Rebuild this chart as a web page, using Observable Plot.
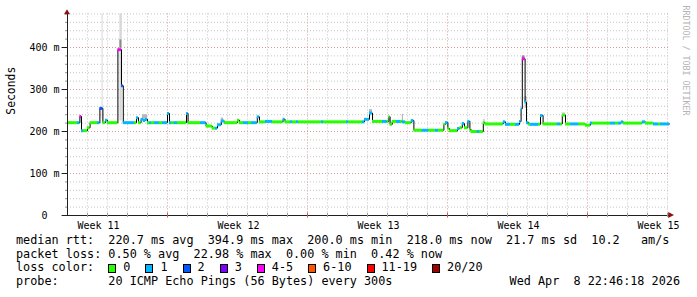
<!DOCTYPE html>
<html>
<head>
<meta charset="utf-8">
<script src="https://cdn.jsdelivr.net/npm/d3@7"></script>
<script src="https://cdn.jsdelivr.net/npm/@observablehq/plot@0.6"></script>
<style>
  html, body { margin: 0; padding: 0; background: #fff; }
  #wrap { position: relative; width: 697px; height: 297px; background: #fff; overflow: hidden; }
  #wrap svg text { white-space: pre; }
  .mono { font-family: "DejaVu Sans Mono", monospace; font-size: 11.8px; line-height: 13.7px; white-space: pre; color: #000; position: absolute; }
  .box { position: absolute; width: 6px; height: 7px; border: 1px solid #000; }
</style>
</head>
<body>
<div id="wrap"></div>
<script>
// ---------- data ----------
const xEnd = 30.1; // days shown
const segStart = [0,0.50,0.62,0.70,0.80,1.00,1.13,1.50,1.62,1.77,1.90,2.00,2.52,2.70,2.79,3.34,3.45,3.55,3.68,3.80,3.90,4.00,4.10,4.20,4.35,4.59,4.75,5.00,5.10,5.20,5.34,5.50,5.95,6.03,6.65,6.93,7.24,7.40,7.50,7.69,7.85,8.50,8.60,8.80,9.05,9.20,9.49,9.60,9.90,10.25,10.78,10.88,11.15,11.25,11.45,11.55,12.70,12.80,13.95,14.05,14.74,14.85,15.10,15.25,15.75,15.99,16.07,16.13,16.24,16.45,16.65,16.74,16.90,17.19,17.32,17.74,18.07,18.40,18.55,18.82,18.90,19.02,19.10,19.50,19.62,19.74,19.85,20.02,20.12,20.18,20.49,20.60,20.79,20.88,21.79,21.90,22.15,22.40,22.60,22.68,22.74,22.88,22.95,23.07,23.15,23.55,23.65,23.78,24.49,24.65,24.74,24.90,25.15,25.57,25.90,26.15,26.25,27.15,27.40,27.55,27.69,27.79,28.74,28.90,29.30,29.55,29.65];
const segValue = [221,221,236,202,202,209,221,221,255,221,227,221,394.9,309,221,221,233,221,229,226,229,221,221,221,221,221,221,243,221,221,221,221,243,221,221,213,208,208,216,225,221,227,221,221,221,221,235,223,224,223,229,223,223,223,223,223,223,223,223,223,223,229,244,224,224,224,235,217,224,224,224,223,221,226,203,203,203,203,203,217,221,207,202,207,209,219,209,224,205,200,200,200,221,218,223,217,217,217,224,254,373,270,221,217,217,217,238,218,218,218,239,218,218,218,215,220,220,220,220,220,223,220,223,220,218,218,218];
const segLoss = [0,1,4,1,0,0,0,1,2,0,1,0,4,2,1,0,1,0,1,1,1,0,1,0,1,0,1,1,1,0,1,0,1,0,1,0,0,1,1,1,0,0,0,1,0,1,1,0,1,0,1,0,1,0,1,0,1,0,1,0,1,1,1,0,1,0,0,0,0,1,0,1,0,1,0,1,0,1,0,0,1,0,0,1,0,1,0,1,0,0,1,0,0,0,1,1,0,1,1,1,4,1,1,0,1,0,1,0,1,0,0,0,1,0,0,1,0,1,0,1,1,0,1,0,1,0,1];

// smoke (ping spread) patches: time span, low/high rtt, density level
const smokeX1 = [1.73,2.62,2.62,3.75,7.69,15.10,16.74,20.79,22.74,22.88,24.74];
const smokeX2 = [1.78,2.74,2.72,4.00,7.80,15.25,16.80,20.90,22.88,22.98,24.90];
const smokeLo = [230,225,398,229,224,244,224,221,373,255,239];
const smokeHi = [480,480,418,240,232,252,241,229,380,283,245];
const smokeLevel = [1,1,3,2,2,2,2,1,3,2,1];

const lossLabels = ["0","1","2","3","4-5","6-10","11-19","20/20"];
const lossColors = ["#26ff00","#00b8ff","#0059ff","#7e00ff","#ff00ff","#ff5500","#ff0000","#a10000"];

const yMajor = [0,100,200,300,400];
const yTickLabels = ["0  ","100 m","200 m","300 m","400 m"];
const weekLabels = ["Week 11","Week 12","Week 13","Week 14","Week 15"];
const weekLabelDays = [1.55, 8.55, 15.55, 22.55, 29.55];
const weekBoundaryDays = [5, 12, 19, 26];

const rttNames = ["avg","max","min","now","sd"];
const rttValues = [220.7, 394.9, 200.0, 218.0, 21.7];
const ampsValue = 10.2;
const lossPctNames = ["avg","max","min","now"];
const lossPctValues = [0.50, 22.98, 0.00, 0.42];
const probeText = "20 ICMP Echo Pings (56 Bytes) every 300s";
const dateText = "Wed Apr  8 22:46:18 2026";

// ---------- derived ----------
const segs = segStart.map((s, i) => ({x1: s, x2: i + 1 < segStart.length ? segStart[i + 1] : xEnd, v: segValue[i], loss: segLoss[i]}));
const linePts = segStart.map((s, i) => ({x: s, v: segValue[i]})).concat([{x: xEnd, v: segValue[segValue.length - 1]}]);
const smoke = smokeX1.map((x, i) => ({x1: x, x2: smokeX2[i], lo: smokeLo[i], hi: smokeHi[i], level: smokeLevel[i]}));
const smokeGray = {1: "#d8d8d8", 2: "#b8b8b8", 3: "#8a8a8a"};

const yMinor = d3.range(20, 481, 20).filter(v => v % 100 !== 0);
const xMinor = d3.range(1, 31).filter(d => !weekBoundaryDays.includes(d));

const minorGrid = "#c4c4c4", majorGrid = "#dc9a9a", axisColor = "#202020", arrowColor = "#8b1010";

function arrows(index, scales, values, dimensions) {
  const sx = scales && scales.x ? scales.x : v => 67 + v * 20;
  const sy = scales && scales.y ? scales.y : v => 215 - v * 0.42;
  const g = d3.create("svg:g");
  const x0 = sx(0), y0 = sy(0), xr = sx(xEnd), yt = sy(480);
  g.append("path").attr("d", `M${x0 - 3},${yt + 0.8}L${x0},${yt - 4.2}L${x0 + 3},${yt + 0.8}Z`).attr("fill", arrowColor);
  g.append("path").attr("d", `M${xr - 0.8},${y0 - 3}L${xr + 5},${y0}L${xr - 0.8},${y0 + 3}Z`).attr("fill", arrowColor);
  return g.node();
}

const chart = Plot.plot({
  width: 697,
  height: 297,
  marginLeft: 67,
  marginRight: 28,
  marginTop: 13.4,
  marginBottom: 82,
  style: {fontFamily: "DejaVu Sans Mono", fontSize: "10px", background: "#fff", color: "#000"},
  x: {domain: [0, xEnd], axis: null},
  y: {domain: [0, 480], axis: null},
  color: {type: "identity"},
  marks: [
    Plot.ruleY(yMinor, {stroke: minorGrid, strokeDasharray: "1,2"}),
    Plot.ruleX(xMinor, {stroke: minorGrid, strokeDasharray: "1,2"}),
    Plot.ruleY([100, 200, 300, 400], {stroke: majorGrid, strokeDasharray: "1,2"}),
    Plot.ruleX(weekBoundaryDays, {stroke: majorGrid, strokeDasharray: "1,2"}),
    Plot.rect(smoke, {x1: "x1", x2: "x2", y1: "lo", y2: "hi", fill: d => smokeGray[d.level]}),
    Plot.line(linePts, {x: "x", y: "v", curve: "step-after", stroke: "#000", strokeWidth: 1}),
    Plot.ruleY(segs, {y: "v", x1: "x1", x2: "x2", stroke: d => lossColors[d.loss], strokeWidth: 3}),
    // axes
    Plot.ruleY([0], {x1: 0, x2: xEnd, stroke: axisColor}),
    Plot.ruleX([0], {y1: 0, y2: 480, stroke: axisColor}),
    Plot.ruleY(yMajor, {x1: -0.27, x2: 0, stroke: axisColor}),
    Plot.ruleY(yMinor, {x1: -0.1, x2: 0, stroke: "#909090"}),
    Plot.ruleX(xMinor, {y1: -4.8, y2: 4.8, stroke: "#a0a0a0"}),
    Plot.ruleX(weekBoundaryDays, {y1: -6, y2: 6, stroke: "#c06060"}),
    arrows,
    Plot.text(yMajor, {x: 0, y: d => d, text: (d, i) => yTickLabels[i], textAnchor: "end", dx: -8, fontSize: 10}),
    Plot.text(weekLabels, {x: (d, i) => weekLabelDays[i], y: 0, dy: 10, fontSize: 10}),
    Plot.text(["Seconds"], {frameAnchor: "left", dx: -56, rotate: -90, fontSize: 11.4}),
    Plot.text(["RRDTOOL / TOBI OETIKER"], {frameAnchor: "top-right", dx: 19.5, dy: -8.4, rotate: 90, textAnchor: "start", fontSize: 8.3, fill: "#b4b4b4"})
  ]
});

const wrap = document.getElementById("wrap");
wrap.appendChild(chart);

// ---------- legend text ----------
const charW = 7.105, lineH = 13.7, top0 = 234, left0 = 16;
function addText(str, left, top, right) {
  const el = document.createElement("div");
  el.className = "mono";
  if (right != null) el.style.right = right + "px"; else el.style.left = left + "px";
  el.style.top = top + "px";
  el.textContent = str;
  wrap.appendChild(el);
  return el;
}
const line1 = "median rtt:  " + rttValues.map((v, i) => `${v.toFixed(1)} ms ${rttNames[i]}`).join("  ") + "  " + ampsValue.toFixed(1) + "   am/s";
const line2 = "packet loss: " + lossPctValues.map((v, i) => `${v.toFixed(2)} % ${lossPctNames[i]}`).join("  ");
const line4 = "probe:       " + probeText;
addText(line1, left0, top0);
addText(line2, left0, top0 + lineH);
addText("loss color:", left0, top0 + 2 * lineH);
addText(line4, left0, top0 + 3 * lineH);
addText(dateText, null, top0 + 3 * lineH, 17);

// loss colour boxes, laid out one after another
let cx = left0 + 13 * charW;
const boxTop = top0 + 2 * lineH + 2.6;
lossLabels.forEach((l, i) => {
  const b = document.createElement("div");
  b.className = "box";
  b.style.left = cx + "px";
  b.style.top = boxTop + "px";
  b.style.background = lossColors[i];
  wrap.appendChild(b);
  addText(l, cx + 15, top0 + 2 * lineH);
  cx += 15 + l.length * charW + 15;
});
</script>
</body>
</html>
